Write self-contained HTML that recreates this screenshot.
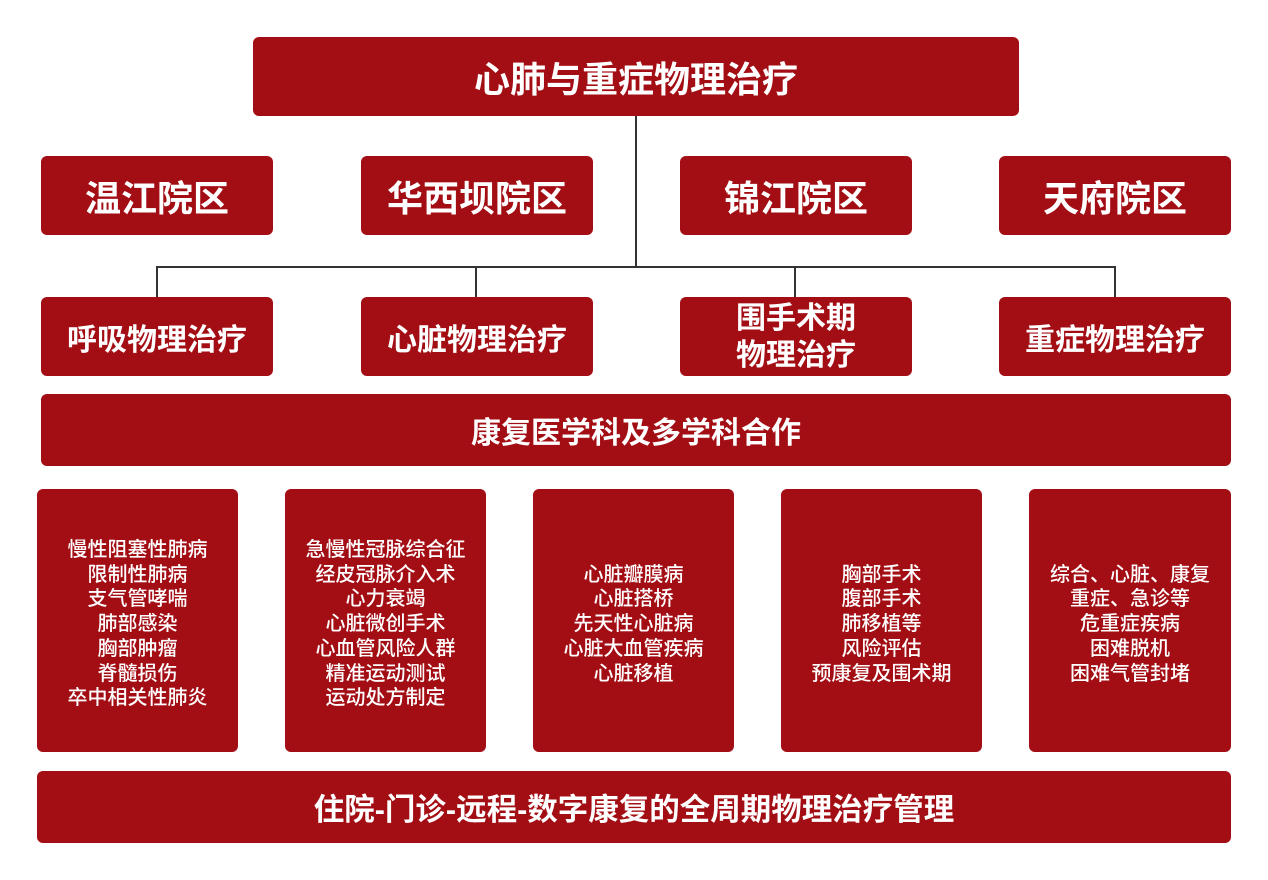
<!DOCTYPE html>
<html><head><meta charset="utf-8"><style>
*{margin:0;padding:0;box-sizing:border-box}
body{width:1268px;height:880px;background:#fff;position:relative;overflow:hidden;font-family:"Liberation Sans","Noto Sans CJK SC",sans-serif}
.b{position:absolute;background:#a30d14;color:#fff;border-radius:6px;display:flex;align-items:center;justify-content:center;text-align:center;font-weight:bold}
.l{position:absolute;background:#333}
.s{font-size:20px;line-height:24.7px;font-weight:500;padding-top:8px}
</style></head><body>
<div class="b" style="left:253px;top:37px;width:766px;height:79px;font-size:36px">心肺与重症物理治疗</div>
<div class="l" style="left:635px;top:116px;width:2px;height:152px"></div>
<div class="l" style="left:156px;top:266px;width:960px;height:2px"></div>
<div class="l" style="left:156px;top:266px;width:2px;height:31px"></div>
<div class="l" style="left:475px;top:266px;width:2px;height:31px"></div>
<div class="l" style="left:794px;top:266px;width:2px;height:31px"></div>
<div class="l" style="left:1114px;top:266px;width:2px;height:31px"></div>
<div class="b" style="left:41px;top:156px;width:232px;height:79px;font-size:36px">温江院区</div>
<div class="b" style="left:361px;top:156px;width:232px;height:79px;font-size:36px">华西坝院区</div>
<div class="b" style="left:680px;top:156px;width:232px;height:79px;font-size:36px">锦江院区</div>
<div class="b" style="left:999px;top:156px;width:232px;height:79px;font-size:36px">天府院区</div>
<div class="b" style="left:41px;top:297px;width:232px;height:79px;font-size:30px">呼吸物理治疗</div>
<div class="b" style="left:361px;top:297px;width:232px;height:79px;font-size:30px">心脏物理治疗</div>
<div class="b" style="left:680px;top:297px;width:232px;height:79px;font-size:30px;line-height:37px">围手术期<br>物理治疗</div>
<div class="b" style="left:999px;top:297px;width:232px;height:79px;font-size:30px">重症物理治疗</div>
<div class="b" style="left:41px;top:394px;width:1190px;height:72px;font-size:30px">康复医学科及多学科合作</div>
<div class="b s" style="left:37px;top:489px;width:201px;height:263px">慢性阻塞性肺病<br>限制性肺病<br>支气管哮喘<br>肺部感染<br>胸部肿瘤<br>脊髓损伤<br>卒中相关性肺炎</div>
<div class="b s" style="left:285px;top:489px;width:201px;height:263px">急慢性冠脉综合征<br>经皮冠脉介入术<br>心力衰竭<br>心脏微创手术<br>心血管风险人群<br>精准运动测试<br>运动处方制定</div>
<div class="b s" style="left:533px;top:489px;width:201px;height:263px">心脏瓣膜病<br>心脏搭桥<br>先天性心脏病<br>心脏大血管疾病<br>心脏移植</div>
<div class="b s" style="left:781px;top:489px;width:201px;height:263px">胸部手术<br>腹部手术<br>肺移植等<br>风险评估<br>预康复及围术期</div>
<div class="b s" style="left:1029px;top:489px;width:202px;height:263px">综合、心脏、康复<br>重症、急诊等<br>危重症疾病<br>困难脱机<br>困难气管封堵</div>
<div class="b" style="left:37px;top:771px;width:1194px;height:72px;font-size:30.5px">住院-门诊-远程-数字康复的全周期物理治疗管理</div>
</body></html>
